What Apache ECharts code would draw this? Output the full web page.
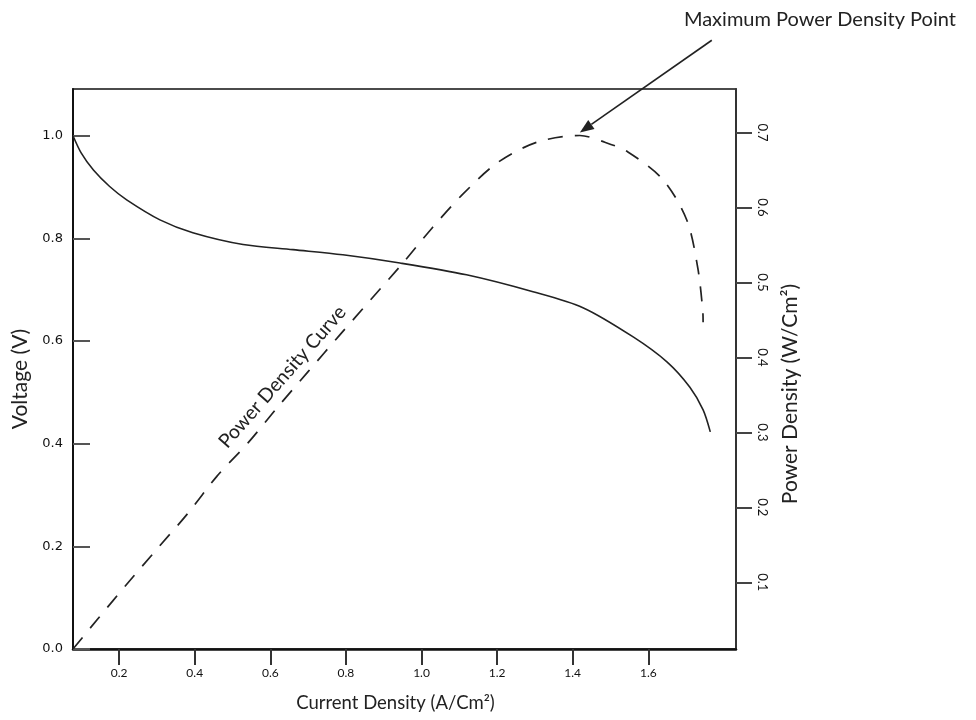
<!DOCTYPE html>
<html><head><meta charset="utf-8">
<script src="https://cdn.jsdelivr.net/npm/echarts@6/dist/echarts.min.js"></script>
<style>html,body{margin:0;padding:0;background:#fff}#c{width:976px;height:720px}</style>
</head><body><div id="c"></div>
<script>
// Voltage (solid) curve
const currentV = [0.078, 0.100, 0.132, 0.175, 0.220, 0.308, 0.395, 0.528, 0.660, 0.792, 0.943, 1.119, 1.295, 1.427, 1.560, 1.650, 1.710, 1.745, 1.764];
const voltage  = [1.000, 0.966, 0.933, 0.901, 0.875, 0.836, 0.811, 0.788, 0.778, 0.768, 0.752, 0.729, 0.696, 0.665, 0.608, 0.559, 0.510, 0.466, 0.423];
// Power density (dashed) curve
const currentP = [0.078, 0.145, 0.223, 0.303, 0.382, 0.458, 0.541, 0.620, 0.700, 0.784, 0.864, 0.951, 1.027, 1.106, 1.199, 1.305, 1.419, 1.485, 1.546, 1.639, 1.702, 1.731, 1.744, 1.745];
const power    = [0.011, 0.052, 0.099, 0.146, 0.192, 0.241, 0.286, 0.334, 0.381, 0.430, 0.476, 0.526, 0.572, 0.616, 0.659, 0.687, 0.696, 0.687, 0.674, 0.637, 0.583, 0.519, 0.463, 0.447];
// Tick values
const xTicks = [0.2, 0.4, 0.6, 0.8, 1.0, 1.2, 1.4, 1.6];
const vTicks = [0.0, 0.2, 0.4, 0.6, 0.8, 1.0];
const pTicks = [0.1, 0.2, 0.3, 0.4, 0.5, 0.6, 0.7];
// Annotations (data coordinates on current / power axes)
const maxPointTip = [1.419, 0.700];
const maxPointTail = [1.768, 0.823];
const maxPointLabelAt = [2.054, 0.850];
const maxPointLabel = 'Maximum Power Density Point';
const curveLabelAt = [0.632, 0.374];
const curveLabel = 'Power Density Curve';

const chart = echarts.init(document.getElementById('c'), null, {renderer: 'canvas'});
const fmt = v => v.toFixed(1);
const ink = '#222';
chart.setOption({
  animation: false,
  backgroundColor: '#fff',
  grid: {left: 73, right: 240, top: 89, bottom: 71, show: true, borderColor: '#111', borderWidth: 1.5},
  xAxis: {
    type: 'value', min: 0.078, max: 1.832,
    splitLine: {show: false},
    axisLine: {lineStyle: {color: '#111', width: 2.5}},
    axisTick: {customValues: xTicks, length: 16, lineStyle: {color: '#333', width: 2}},
    axisLabel: {customValues: xTicks, formatter: fmt, margin: 18, fontSize: 12, fontFamily: 'Lato', color: '#111'},
    name: 'Current Density (A/Cm²)', nameLocation: 'middle', nameGap: 45,
    nameTextStyle: {fontFamily: 'Lato', fontSize: 18.5, color: ink, padding: [0, 18, 0, 0]}
  },
  yAxis: [{
    type: 'value', position: 'left', min: 0, max: 1.091,
    splitLine: {show: false},
    axisLine: {show: true, lineStyle: {color: '#111', width: 2}},
    axisTick: {customValues: vTicks, inside: true, length: 17, lineStyle: {color: '#555', width: 2}},
    axisLabel: {customValues: vTicks, formatter: fmt, margin: 10, fontSize: 13, fontFamily: 'DejaVu Sans', color: '#111'},
    name: 'Voltage (V)', nameLocation: 'middle', nameGap: 42,
    nameTextStyle: {fontFamily: 'Lato', fontSize: 21, color: ink, padding: [0, 20, 0, 0]}
  }, {
    type: 'value', position: 'right', min: 0.011, max: 0.758,
    splitLine: {show: false},
    axisLine: {show: true, lineStyle: {color: '#333', width: 2}},
    axisTick: {customValues: pTicks, length: 16, lineStyle: {color: '#444', width: 2}},
    axisLabel: {customValues: pTicks, formatter: fmt, rotate: -90, margin: 20, fontSize: 13, fontFamily: 'Lato', color: '#111'},
    name: 'Power Density (W/Cm²)', nameLocation: 'middle', nameGap: 44,
    nameTextStyle: {fontFamily: 'Lato', fontSize: 21, color: ink, padding: [0, 50, 0, 0]}
  }],
  series: [{
    name: 'Voltage', type: 'line', yAxisIndex: 0, showSymbol: false, smooth: 0.3,
    lineStyle: {color: ink, width: 1.6},
    data: currentV.map((x, i) => [x, voltage[i]])
  }, {
    name: 'Power Density', type: 'line', yAxisIndex: 1, showSymbol: false, smooth: 0.3,
    lineStyle: {color: ink, width: 1.7, type: [15, 12]},
    data: currentP.map((x, i) => [x, power[i]])
  }]
});

const toPx = p => chart.convertToPixel({seriesIndex: 1}, p);
const tip = toPx(maxPointTip), tail = toPx(maxPointTail), lab = toPx(maxPointLabelAt), cl = toPx(curveLabelAt);
const dx = tip[0] - tail[0], dy = tip[1] - tail[1], L = Math.hypot(dx, dy);
const ux = dx / L, uy = dy / L, headL = 14, headW = 5.5;
const base = [tip[0] - ux * headL, tip[1] - uy * headL];
chart.setOption({
  graphic: [
    {type: 'line', shape: {x1: tail[0], y1: tail[1], x2: base[0], y2: base[1]}, style: {stroke: ink, lineWidth: 1.6}},
    {type: 'polygon', shape: {points: [tip, [base[0] - uy * headW, base[1] + ux * headW], [base[0] + uy * headW, base[1] - ux * headW]]}, style: {fill: ink}},
    {type: 'text', x: lab[0], y: lab[1], style: {text: maxPointLabel, fontFamily: 'Lato', fontSize: 20, fill: ink, align: 'center', verticalAlign: 'middle'}},
    {type: 'text', x: cl[0], y: cl[1], rotation: 48.7 * Math.PI / 180, style: {text: curveLabel, fontFamily: 'Lato', fontSize: 19.5, fill: ink, align: 'center', verticalAlign: 'middle'}}
  ]
});
</script></body></html>
